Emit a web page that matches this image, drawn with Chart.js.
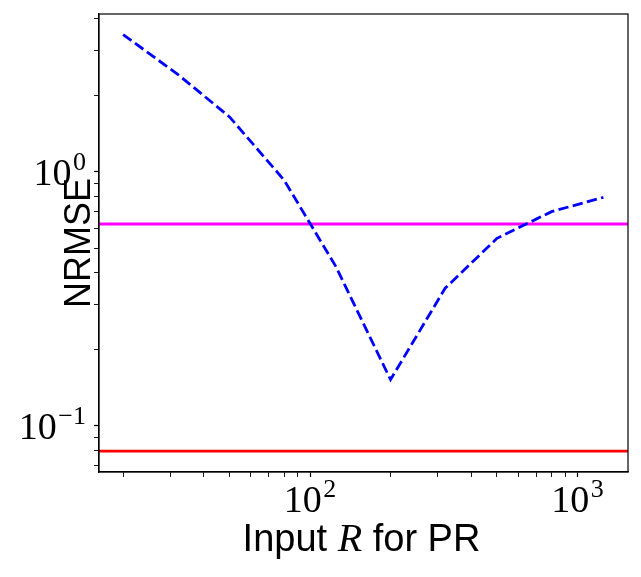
<!DOCTYPE html>
<html><head><meta charset="utf-8">
<script src="https://cdn.jsdelivr.net/npm/chart.js@4.4.1/dist/chart.umd.min.js"></script>
<style>html,body{margin:0;padding:0;background:#fff;overflow:hidden}</style>
</head><body>
<canvas id="c" width="641" height="577" style="width:641px;height:577px;display:block"></canvas>
<script>
const inputR = [20, 32, 50, 80, 125, 200, 320, 500, 800, 1250];
const nrmse = [3.47, 2.42, 1.645, 0.927, 0.423, 0.152, 0.348, 0.547, 0.697, 0.793];
const magentaLevel = 0.623;
const redLevel = 0.0795;
const xRange = [16.25, 1545];
const yRange = [0.0658, 4.18];
const xTickValues = [20,30,40,50,60,70,80,90,100,200,300,400,500,600,700,800,900,1000];
const yTickValues = [0.07,0.08,0.09,0.1,0.2,0.3,0.4,0.5,0.6,0.7,0.8,0.9,1,2,3,4];
const xTitleParts = ['Input ', 'R', ' for PR'];
const yTitle = 'NRMSE';

function isDecade(v){ const e = Math.log10(v); return Math.abs(e - Math.round(e)) < 1e-9; }

const serif = "'Liberation Serif', 'DejaVu Serif', serif";
const sans = "'Liberation Sans', 'DejaVu Sans', sans-serif";

const boxPlugin = {
  id: 'box',
  afterDraw(chart){
    const {ctx, chartArea:a} = chart;
    ctx.save();
    ctx.strokeStyle = '#000';
    ctx.lineWidth = 1.2;
    ctx.strokeRect(a.left, a.top, a.right - a.left, a.bottom - a.top);
    ctx.restore();
  }
};

const labelPlugin = {
  id: 'decadeLabels',
  afterDraw(chart){
    const ctx = chart.ctx, xs = chart.scales.x, ys = chart.scales.y, a = chart.chartArea;
    const big = "38px " + serif, small = "26px " + serif;
    ctx.save();
    ctx.fillStyle = '#000';
    ctx.textBaseline = 'alphabetic';
    ctx.textAlign = 'left';
    function draw(v, anchorX, baseY, align){
      const e = String(Math.round(Math.log10(v))).replace('-', '\u2212');
      ctx.font = big; const w1 = ctx.measureText('10').width;
      ctx.font = small; const w2 = ctx.measureText(e).width;
      const gap = 1.5;
      const total = w1 + gap + w2;
      const x0 = align === 'center' ? anchorX - total / 2 : anchorX - total;
      ctx.font = big; ctx.fillText('10', x0, baseY);
      ctx.font = small; ctx.fillText(e, x0 + w1 + gap, baseY - 15);
    }
    xTickValues.filter(isDecade).forEach(v => draw(v, xs.getPixelForValue(v), a.bottom + 40, 'center'));
    yTickValues.filter(isDecade).forEach(v => draw(v, a.left - 13, ys.getPixelForValue(v) + 13.3, 'right'));

    // x-axis title with italic math R
    const fonts = ["38px " + sans, "italic 40px " + serif, "38px " + sans];
    const widths = xTitleParts.map((t, i) => { ctx.font = fonts[i]; return ctx.measureText(t).width; });
    let x = (a.left + a.right) / 2 - 2 - widths.reduce((s, w) => s + w, 0) / 2;
    xTitleParts.forEach((t, i) => { ctx.font = fonts[i]; ctx.fillText(t, x, 551); x += widths[i]; });
    ctx.restore();
  }
};

const tickGrid = {display: true, drawOnChartArea: false, drawTicks: true, tickLength: 5, tickColor: '#000',
                  tickWidth: c => (c.tick && isDecade(c.tick.value)) ? 1.2 : 0.9};

new Chart(document.getElementById('c'), {
  type: 'line',
  data: {
    datasets: [
      {
        label: 'NRMSE',
        data: inputR.map((r, i) => ({x: r, y: nrmse[i]})),
        borderColor: '#0000ff',
        borderWidth: 2.8,
        borderDash: [10.3, 4.4],
        pointRadius: 0,
        fill: false,
        tension: 0
      },
      {
        label: 'magenta',
        data: [{x: xRange[0], y: magentaLevel}, {x: xRange[1], y: magentaLevel}],
        borderColor: '#ff00ff',
        borderWidth: 2.8,
        pointRadius: 0,
        fill: false
      },
      {
        label: 'red',
        data: [{x: xRange[0], y: redLevel}, {x: xRange[1], y: redLevel}],
        borderColor: '#ff0000',
        borderWidth: 2.8,
        pointRadius: 0,
        fill: false
      }
    ]
  },
  options: {
    responsive: false,
    animation: false,
    devicePixelRatio: 1,
    layout: {padding: {left: 0, top: 14, right: 13, bottom: 0}},
    plugins: {legend: {display: false}, tooltip: {enabled: false}},
    scales: {
      x: {
        type: 'logarithmic',
        min: xRange[0], max: xRange[1],
        afterBuildTicks: s => { s.ticks = xTickValues.map(v => ({value: v, major: isDecade(v)})); },
        afterFit: s => { s.height = 105; s.paddingLeft = 0; s.paddingRight = 0; s.paddingTop = 0; s.paddingBottom = 0; },
        grid: tickGrid,
        border: {display: true, color: '#000', width: 1.2},
        ticks: {display: false, autoSkip: false, maxRotation: 0, minRotation: 0},
        title: {display: false}
      },
      y: {
        type: 'logarithmic',
        min: yRange[0], max: yRange[1],
        afterBuildTicks: s => { s.ticks = yTickValues.map(v => ({value: v, major: isDecade(v)})); },
        afterFit: s => { s.width = 99; s.paddingLeft = 0; s.paddingRight = 0; s.paddingTop = 0; s.paddingBottom = 0; },
        grid: tickGrid,
        border: {display: true, color: '#000', width: 1.2},
        ticks: {display: false, autoSkip: false},
        title: {display: true, text: yTitle, color: '#000',
                font: {family: sans, size: 36, lineHeight: 1}, padding: {top: 62, bottom: 0}}
      }
    }
  },
  plugins: [boxPlugin, labelPlugin]
});
</script>
</body></html>
